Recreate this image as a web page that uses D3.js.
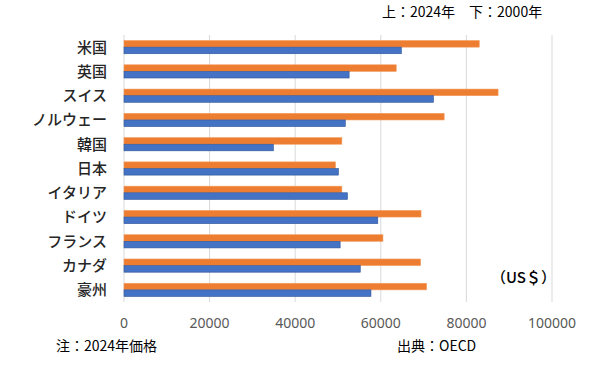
<!DOCTYPE html>
<html>
<head>
<meta charset="utf-8">
<script src="https://cdn.jsdelivr.net/npm/d3@7"></script>
<style>
  body { margin: 0; background: #fff; }
  svg { display: block; font-family: "Noto Sans CJK JP", "Noto Sans", sans-serif; }
</style>
</head>
<body>
<div id="chart"></div>
<script>
const countries = ['米国', '英国', 'スイス', 'ノルウェー', '韓国', '日本', 'イタリア', 'ドイツ', 'フランス', 'カナダ', '豪州'];
const series = ['2024', '2000'];
const wage2024 = [83000, 63600, 87400, 74800, 50900, 49400, 50900, 69400, 60500, 69300, 70700];
const wage2000 = [64800, 52600, 72300, 51700, 34900, 50100, 52200, 59300, 50500, 55200, 57700];
const xTicks = [0, 20000, 40000, 60000, 80000, 100000];

const width = 600, height = 376;
const margin = { top: 35, right: 48, bottom: 74, left: 124 };

const svg = d3.select('#chart').append('svg')
  .attr('width', width)
  .attr('height', height);

const x = d3.scaleLinear()
  .domain([0, 100000])
  .range([margin.left, width - margin.right]);

const y = d3.scaleBand()
  .domain(countries)
  .range([margin.top, height - margin.bottom])
  .padding(0);

// two bars per group, 2024 on top
const inner = d3.scaleBand()
  .domain(series)
  .range([y.bandwidth() / 2 - 6.6, y.bandwidth() / 2 + 6.6]);

const colors = { '2024': '#ED7D31', '2000': '#4472C4' };
const strokes = { '2024': '#F29A5C', '2000': '#2F5597' };

// gridlines
svg.append('g')
  .selectAll('line')
  .data(xTicks)
  .join('line')
  .attr('x1', d => x(d))
  .attr('x2', d => x(d))
  .attr('y1', margin.top)
  .attr('y2', height - margin.bottom)
  .attr('stroke', '#d9d9d9')
  .attr('stroke-width', 1);

const rows = countries.map((c, i) => ({ c, vals: { '2024': wage2024[i], '2000': wage2000[i] } }));

const groups = svg.append('g')
  .selectAll('g')
  .data(rows)
  .join('g')
  .attr('transform', d => `translate(0,${y(d.c)})`);

groups.selectAll('rect')
  .data(d => series.map(s => ({ s, v: d.vals[s] })))
  .join('rect')
  .attr('x', x(0))
  .attr('y', d => inner(d.s))
  .attr('width', d => x(d.v) - x(0))
  .attr('height', inner.bandwidth())
  .attr('fill', d => colors[d.s])
  .attr('stroke', d => strokes[d.s])
  .attr('stroke-width', 0.6);

// category labels
svg.append('g')
  .selectAll('text')
  .data(countries)
  .join('text')
  .attr('x', 107)
  .attr('y', d => y(d) + y.bandwidth() / 2)
  .attr('dy', '0.36em')
  .attr('text-anchor', 'end')
  .attr('font-size', 15)
  .attr('font-weight', 500)
  .attr('fill', '#262626')
  .text(d => d);

// x axis labels
svg.append('g')
  .selectAll('text')
  .data(xTicks)
  .join('text')
  .attr('x', d => x(d))
  .attr('y', 328)
  .attr('text-anchor', 'middle')
  .attr('font-family', '"Noto Sans", sans-serif')
  .attr('font-size', 14)
  .attr('fill', '#595959')
  .text(d => d);

const notes = [
  { t: '上：2024年　下：2000年', x: 382, y: 17, size: 14, w: 400 },
  { t: '（US＄）', x: 491, y: 283, size: 15, w: 500 },
  { t: '注：2024年価格', x: 56, y: 351, size: 14, w: 400 },
  { t: '出典：OECD', x: 397, y: 351, size: 14, w: 400 }
];

svg.append('g')
  .selectAll('text')
  .data(notes)
  .join('text')
  .attr('x', d => d.x)
  .attr('y', d => d.y)
  .attr('font-size', d => d.size)
  .attr('font-weight', d => d.w)
  .attr('fill', '#000')
  .text(d => d.t);
</script>
</body>
</html>
